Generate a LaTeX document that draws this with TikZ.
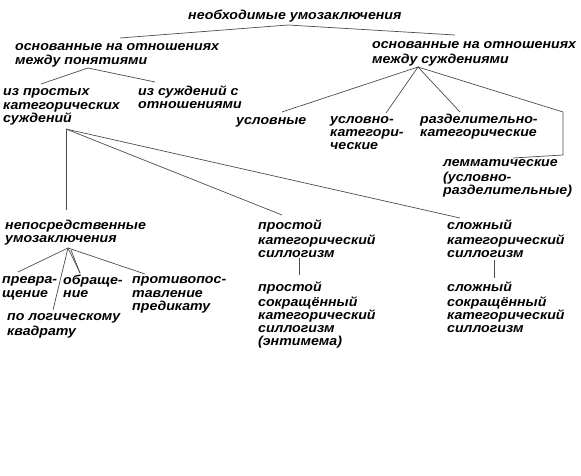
\documentclass[tikz,border=0pt]{standalone}
\usepackage{fontspec}
\setmainfont{Liberation Sans}[FakeStretch=1.09]
\begin{document}
\begin{tikzpicture}[x=1pt,y=-1pt,
  lbl/.style={anchor=north west,inner sep=0pt,align=left,
    font=\fontsize{13}{13.2}\selectfont\bfseries\itshape},
  conn/.style={draw=black!70,line width=0.7pt}]
\useasboundingbox (0,0) rectangle (581,476);
% nodes (top = first-line centre - 5.6)
\node[lbl] (top) at (188,9.6) {\strut необходимые умозаключения};
\node[lbl] (A) at (15,41) {\strut основанные на отношениях\\между понятиями};
\node[lbl] (B) at (372,39.5) {\strut основанные на отношениях\\между суждениями};
\node[lbl] (C) at (3,86.5) {\strut из простых\\категорических\\суждений};
\node[lbl] (D) at (138,85.5) {\strut из суждений с\\отношениями};
\node[lbl] (E) at (236,115.5) {\strut условные};
\node[lbl] (F) at (330,114) {\strut условно-\\категори-\\ческие};
\node[lbl] (G) at (420,113.5) {\strut разделительно-\\категорические};
\node[lbl] (H) at (443,157.5) {\strut лемматические\\(условно-\\разделительные)};
\node[lbl] (I) at (5,219.5) {\strut непосредственные\\умозаключения};
\node[lbl] (J) at (258,219.5) {\strut простой\\категорический\\силлогизм};
\node[lbl] (K) at (447,219.5) {\strut сложный\\категорический\\силлогизм};
\node[lbl] (L) at (258,281.5) {\strut простой\\сокращённый\\категорический\\силлогизм\\(энтимема)};
\node[lbl] (M) at (447,281.5) {\strut сложный\\сокращённый\\категорический\\силлогизм};
\node[lbl] (N) at (2,274.5) {\strut превра-\\щение};
\node[lbl] (O) at (63,274.5) {\strut обраще-\\ние};
\node[lbl] (P) at (132,274.5) {\strut противопос-\\тавление\\предикату};
\node[lbl] (Q) at (7,311.5) {\strut по логическому\\квадрату};
% connector points
\coordinate (topA) at (288,25);
\coordinate (toA) at (120,38);
\coordinate (toB) at (455,35);
\coordinate (apA) at (88,68);
\coordinate (toC) at (41,84);
\coordinate (toD) at (155,82);
\coordinate (apB) at (418,67);
\coordinate (toE) at (282,112);
\coordinate (toF) at (386,113);
\coordinate (toG) at (460,112);
\coordinate (brA) at (563,112);
\coordinate (brB) at (563,155);
\coordinate (toH) at (513,158);
\coordinate (apC) at (66,129);
\coordinate (toI) at (66,210);
\coordinate (toJ) at (282,215);
\coordinate (toK) at (460,218);
\coordinate (apJ) at (299,258);
\coordinate (toL) at (299,275);
\coordinate (apK) at (494,260);
\coordinate (toM) at (494,278);
\coordinate (apI) at (68,248);
\coordinate (apI2) at (71,250);
\coordinate (toN) at (18,272);
\coordinate (toO) at (80,273);
\coordinate (toP) at (145,274);
\coordinate (toQ) at (53,310);
% connectors
\draw[conn] (toA) -- (topA) -- (toB);
\draw[conn] (toC) -- (apA) -- (toD);
\draw[conn] (toE) -- (apB) -- (toF);
\draw[conn] (apB) -- (toG);
\draw[conn] (apB) -- (brA) -- (brB) -- (toH);
\draw[conn] (apC) -- (toI);
\draw[conn] (apC) -- (toJ);
\draw[conn] (apC) -- (toK);
\draw[conn] (apJ) -- (toL);
\draw[conn] (apK) -- (toM);
\draw[conn] (toN) -- (apI) -- (toO);
\draw[conn] (apI2) -- (toO);
\draw[conn] (apI) -- (toP);
\draw[conn] (apI) -- (toQ);
\end{tikzpicture}
\end{document}
